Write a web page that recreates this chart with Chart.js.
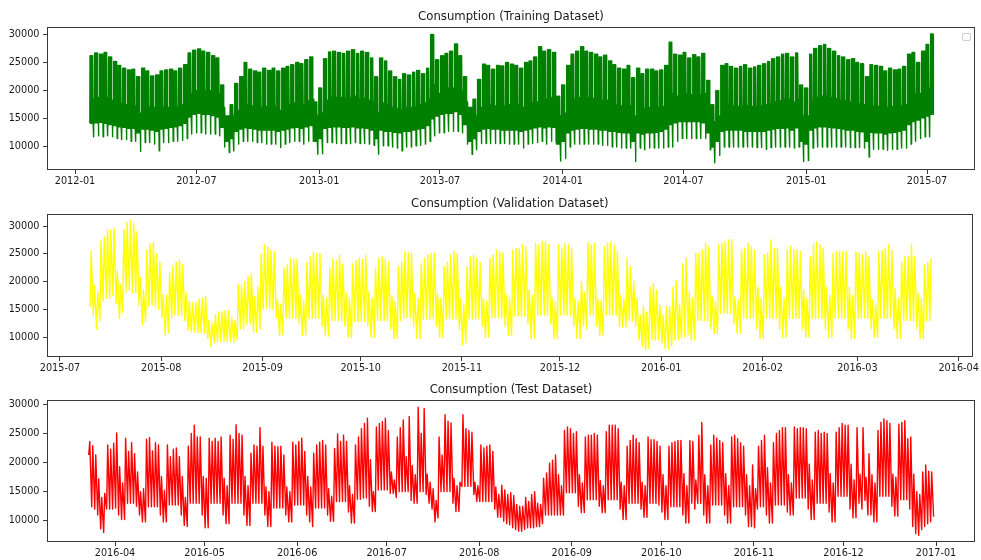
<!DOCTYPE html>
<html><head><meta charset="utf-8">
<script src="https://cdn.jsdelivr.net/npm/chart.js@4.4.1/dist/chart.umd.min.js"></script>
<style>
html,body{margin:0;padding:0;background:#fff;width:981px;height:560px;overflow:hidden}
canvas{position:absolute;left:0}
</style></head><body>
<canvas id="c1" width="981" height="188" style="top:0px"></canvas>
<canvas id="c2" width="981" height="185" style="top:190px"></canvas>
<canvas id="c3" width="981" height="185" style="top:375px"></canvas>
<script>
// ---------------- DATA ----------------
// Training: weekly values (week starting Monday)
const trainStart = '2012-01-23';
const trainLastWeekDays = 5;
const trainWeekdayHigh = [
26200,26700,26500,26800,26000,25200,24500,24000,23700,23800,
22500,24000,23500,22600,22800,23500,23700,23800,23500,24000,
24600,26700,27200,27400,27000,26800,26200,25800,21000,15500,
17500,21300,22500,25000,23800,23500,23300,24000,23600,24000,
23500,24000,24300,24600,25000,24800,25500,26000,18000,20500,
25700,26900,27000,26800,26600,27000,27300,26600,27000,26800,
25800,22500,25800,25300,23500,22500,22000,23000,22800,23300,
23600,23000,24000,30000,25500,26200,26600,27000,28300,26200,
22500,17000,18500,22000,24700,24500,23800,24500,24400,25000,
24700,24500,24000,25000,25300,26000,27800,27000,27300,26800,
19000,21000,24500,26500,27000,27800,27000,26800,26500,26000,
26300,25300,24600,24000,23800,24500,22300,24000,23000,23800,
23800,23500,23700,24500,28600,26500,26300,26800,25800,26400,
26000,26600,21800,17500,20000,24500,24800,24300,24000,24300,
24600,24000,24200,24500,24800,25200,25700,26000,26500,26600,
26000,26700,21000,20500,26500,27500,28000,28200,27500,27000,
26200,26000,25500,25700,25000,24800,22500,24600,24500,24300,
23500,24000,23700,23800,24300,26500,26800,25000,27000,28200,
30100];
const trainWeekdayLow = [
14200,14300,14400,14200,14000,13800,13600,13500,13300,13300,
12500,13200,13200,13000,12800,13200,13300,13500,13600,13800,
14200,15300,15800,16000,15800,15800,15600,15300,13500,11000,
11500,12800,13200,13400,13300,13200,13000,13000,13000,13000,
12800,13000,13200,13400,13500,13300,13600,13800,11000,11500,
13300,13500,13600,13600,13500,13500,13600,13400,13400,13300,
13000,11500,13000,12800,12800,12600,12500,12800,12800,13000,
13200,13300,13800,15000,15500,15800,16000,16000,16300,15800,
14000,11000,11500,12800,13200,13300,13200,13200,13000,13000,
13000,13000,12800,13000,13200,13400,13600,13400,13600,13500,
10500,11000,12500,13000,13200,13300,13300,13200,13200,13000,
13000,12800,12800,12600,12500,12500,11000,12500,12300,12500,
12500,12600,12800,13200,14000,14300,14500,14500,14500,14500,
14500,14300,12500,10000,11000,12800,13000,13000,13000,13000,
12800,12800,12800,12800,12800,13000,13200,13300,13300,13400,
13000,13400,11000,10500,13000,13400,13600,13600,13500,13400,
13300,13200,13000,13000,12800,12700,11000,12600,12500,12500,
12300,12500,12600,12800,13000,14000,14500,14800,15200,15500,
15800];
const trainWeekendHigh = [
18500,18800,18600,18800,18300,18000,17800,17500,17300,17300,
16000,17200,17000,17000,16500,17000,17000,17200,17200,17500,
18000,19500,20000,20300,20000,20000,19800,19500,17000,14000,
15500,16500,17000,17500,17300,17200,17000,17200,17000,17200,
16500,17200,17500,17800,18000,17500,18200,18500,15500,16000,
18300,18800,18800,18800,18600,18800,19000,18500,18600,18300,
18000,16000,17800,17500,17000,16800,16500,17000,17000,17200,
17500,17800,18500,21000,19500,20000,20500,20500,21000,20000,
18000,15000,15500,17000,17500,17500,17300,17500,17300,17500,
17500,17500,17000,17500,17800,18000,18800,18500,18800,18500,
15500,16000,18000,18500,18800,19000,18800,18600,18500,18300,
18300,17800,17500,17300,17200,17300,15500,17200,16800,17000,
17000,17000,17200,17800,19500,19000,19500,19500,19300,19500,
19300,19500,17000,14500,15500,17300,17500,17300,17200,17300,
17300,17200,17200,17300,17500,17700,18000,18200,18500,18500,
18000,18500,15500,15500,18300,18800,19000,19000,18800,18600,
18300,18200,18000,18000,17700,17500,15500,17300,17200,17200,
17000,17200,17200,17300,17500,19000,19500,19500,20000,20500,
21000];
const trainWeekendLow = [
11800,12000,11800,12000,11800,11500,11300,11300,11000,11000,
9200,10800,10800,10500,9300,10800,10800,11000,11000,11200,
11500,12300,12500,12500,12300,12300,12300,12000,10000,9000,
9300,10500,11000,11000,11000,10800,10800,10500,10500,10500,
9900,10500,10800,11000,11000,10500,11000,11000,8700,8800,
10800,10800,10600,10600,10600,10600,10800,10600,10600,10500,
10300,8700,10200,10200,10000,9800,9300,10000,10000,10200,
10300,10500,11000,12000,12500,12500,12800,12800,12800,12500,
10500,8700,9500,10600,10600,10600,10600,10600,10600,10500,
10500,10500,9800,10500,10600,10800,11000,10500,11000,10800,
7500,8000,10000,10500,10500,10500,10500,10500,10500,10300,
10300,10000,10000,9800,9800,9800,7400,9800,9500,9800,
9800,9800,9800,10000,10000,11000,11500,11500,11500,11500,
11500,11500,9500,7200,8500,10000,10000,10000,10000,10000,
10000,10000,9900,9900,9600,9900,10000,10000,10000,10000,
9800,10000,7400,7600,9800,10000,10000,10000,10000,10000,
10000,10000,9900,9900,9900,9800,8200,9600,9600,9600,
9400,9600,9600,9800,9800,10500,11000,11500,11800,11800,
12000];

// Validation: daily high / low, from 2015-07-10 (Fri)
const valStart = '2015-07-10';
const valHigh = [
25500,19300,18200,
27300,28000,29300,29300,29600,21800,19500,
29300,30700,31000,30500,29000,20800,18500,
25700,26800,27000,25000,23500,17700,17500,
21500,22800,23500,23800,23000,18000,16500,
16300,16300,16800,17000,17400,13000,12500,
14000,14500,14600,14800,14800,13500,13000,
19500,19400,20000,20900,21500,17300,19000,
25000,26600,26300,25700,25400,16800,16000,
22400,23000,24200,24000,24000,17500,16500,
23500,24500,25300,25000,25000,17500,17000,
22400,24200,23700,24700,23200,17900,17000,
23200,23800,24200,24000,24700,18200,17000,
22400,24200,24500,24000,23500,17500,16500,
22700,23500,25400,25200,25100,17900,17000,
23200,24200,24800,25100,25100,17800,17000,
22700,23500,24800,25400,25100,17000,16000,
22700,24500,24800,24200,23500,17000,16500,
24200,24800,25700,25400,25100,17500,17000,
25700,26000,26000,26600,26300,18500,17500,
26900,26600,27200,27200,26600,17000,16500,
26600,26000,26900,26600,26000,17000,16500,
20000,18000,27000,26600,26800,17000,16500,
26300,26900,27200,26600,25400,17500,17000,
24200,22700,20000,17000,14000,15500,14500,
19000,19700,18500,15700,14000,15500,15500,
19000,20200,16000,23200,24200,18200,17000,
25100,25100,25700,26900,26300,17300,16500,
26600,26900,27200,27500,27500,17300,16800,
25700,26000,26900,26300,25700,19000,17000,
24800,25100,27500,26000,26000,19000,17000,
25700,26300,25700,25700,25400,18500,17000,
24500,26600,27200,26600,26000,19000,17500,
25100,25400,25400,25400,25400,19000,17500,
25400,25100,24800,25400,24500,16700,16000,
25400,25700,26000,26600,25700,18800,17000,
23500,24500,24500,26600,24500,17900,17000,
23000,23500,24200];
const valLow = [
15500,14000,11500,
13000,16500,17000,17000,17500,16000,13400,
14500,18000,18500,18000,18000,15800,12200,
12800,15500,15800,15500,15000,13500,10400,
10800,13500,14000,14000,14000,13000,11200,
11000,11000,10800,10800,10700,9800,8300,
9000,9200,9200,9300,9300,9200,9100,
9500,11500,11500,12300,12500,11000,10900,
11500,15000,15200,15200,15000,13500,10300,
10500,13400,13400,13400,13400,12500,10300,
10400,13400,13400,13400,13400,12000,10300,
10200,13000,13000,13000,13000,12000,10000,
10000,12800,12800,12800,12800,12000,10000,
10000,13000,13000,13000,13000,11500,9800,
9800,13000,13500,13500,13500,12000,9800,
9800,13300,13300,13300,13300,12000,10000,
10000,13300,13300,13300,13300,11500,8700,
9000,13300,13300,13300,13300,12000,10000,
10000,13500,13500,13500,13500,12000,10300,
10300,13800,13800,13800,13800,12500,9800,
9800,14000,14000,14000,14000,12500,9800,
9800,14000,14000,14000,14000,12000,9800,
9800,12000,11500,14000,14000,12000,10300,
10300,14000,14000,14000,14000,12000,11800,
11800,13000,13000,12000,9500,8300,7700,
8000,9500,9500,9500,9000,8000,7800,
8500,9500,9500,9800,10000,10500,9500,
9500,13000,13000,13000,13000,11500,10700,
10700,14300,14300,14300,14300,12500,10700,
10700,13400,13400,13400,13400,11500,9800,
9800,13400,13400,13400,13400,11500,10000,
10000,13400,13400,13400,13400,11500,10000,
10000,13400,13400,13400,13400,11500,10000,
10000,13400,13400,13400,13400,11500,9800,
9800,13400,13400,13400,13400,11500,10000,
10000,13400,13400,13400,13400,11500,9800,
9800,13000,13000,13000,13000,11500,9800,
9800,13000,13000];

// Test: daily high / low, from 2016-03-23 (Wed)
const testStart = '2016-03-23';
const testHigh = [
23600,22900,21300,17200,14000,
14700,23000,22300,23300,25100,19300,16500,
24200,21900,23400,21500,18400,15000,15500,
24000,24300,22000,23400,23000,17600,15200,
23000,21000,22300,22500,21000,17600,14000,
22800,25000,26400,24400,24400,17600,17300,
24200,23600,24200,23600,24400,17300,16000,
24700,24000,26500,25000,24700,17600,16000,
21600,23000,22800,26000,22800,15800,15000,
23500,22800,22700,22800,21300,15800,15000,
23500,23000,23600,24200,21900,17600,15800,
21600,23000,23500,23800,23000,15500,14200,
22400,24900,23600,24700,23600,16000,14500,
23000,24400,25800,26700,27600,20500,15000,
26100,26700,27000,27600,25500,18400,17000,
24400,26000,27300,21000,27900,19500,17900,
29500,25000,29300,18000,16600,15500,13500,
24400,21300,28200,27100,26800,17300,16000,
16600,28200,25800,25500,25200,16600,16000,
23000,22500,22800,23000,21900,15800,14500,
16100,15300,14500,14800,14300,12800,12500,
12500,14000,13300,14500,15000,13000,12800,
17300,18200,19900,20400,21300,17900,16000,
25500,26100,25800,25000,25300,17900,16500,
24400,24700,24700,25000,24700,16900,16000,
25300,26400,26400,26400,25800,16600,16000,
22800,23800,24700,24100,23400,16600,16000,
24400,23900,23900,23600,22800,17900,16000,
22800,23400,23600,23800,23800,18100,16000,
23800,23600,17000,24700,26900,17900,16000,
23000,24700,24200,23800,23400,18100,16000,
24400,24700,24100,23400,22800,17900,16000,
19600,15500,22800,23800,24700,19100,16500,
23400,25000,25500,26000,26000,17900,16500,
26100,25800,26000,26000,25800,19700,17000,
25200,25500,25000,25200,25000,18100,16500,
25200,26000,26700,26400,26400,19700,17000,
26000,18000,26000,17500,21500,17900,16500,
25500,26900,27500,27200,26700,18000,17500,
26600,26900,27200,24100,24400,18000,15000,
14500,18400,19600,18500,18400,null];
const testLow = [
21300,12400,12000,11000,8600,
8000,12000,12000,12000,12200,11000,10200,
10200,13000,13000,13000,12500,11000,9800,
9800,12400,12400,12400,12400,11000,9800,
9800,12700,12700,12700,12700,11000,9200,
9000,13000,13000,13000,13000,11000,8800,
8800,13000,13000,13000,13000,11000,9500,
9500,13000,13000,13000,13000,11000,9200,
9200,13000,13000,13000,13000,11000,9000,
9000,12200,12200,12200,12200,11000,9800,
9800,12700,12700,12700,12700,11000,9800,
9000,12200,12200,12200,12200,11000,9900,
9900,13300,13300,13300,13300,11500,9600,
9600,13700,13700,13900,13900,12500,11600,
11600,15300,15300,15300,15300,14700,14700,
14000,15000,15000,15000,15000,13500,13000,
13000,15000,15000,14500,13000,12000,9800,
10500,15000,15000,15000,15000,13000,11600,
11600,15900,15900,15900,15900,14500,13300,
13300,13300,13300,13300,13300,12000,10600,
10600,9900,9500,9300,8800,8500,8200,
8200,8500,8800,8800,8800,9000,9000,
9500,11000,11000,11000,11000,11000,11000,
11000,14800,14800,14800,14800,12500,11400,
11400,13600,13600,13600,13600,12500,11400,
11400,13600,13600,13600,13600,12000,10200,
10200,13000,13000,13000,13000,12000,10600,
10600,13000,13000,13000,12700,11500,10200,
10200,12400,12400,12400,12400,11000,9600,
9600,13000,12000,13000,13000,11000,9600,
9600,12700,12700,12700,12700,11000,9600,
9600,12400,12400,12400,12400,11000,9000,
9000,8800,12000,12400,12400,11000,9600,
9600,12700,12700,12700,12700,11500,11000,
11000,13900,13900,13900,13900,12000,10200,
10200,13000,13000,13000,13000,11500,9800,
9800,14200,14200,14200,14200,12000,10500,
10500,13000,12000,13500,11000,11000,9800,
9800,14200,14200,14200,14200,12500,10800,
10800,13600,13600,13600,12000,9000,7800,
7500,8500,9000,9500,9800,10700];

// Tick labels
const trainTicks = ['2012-01','2012-07','2013-01','2013-07','2014-01','2014-07','2015-01','2015-07'];
const valTicks = ['2015-07','2015-08','2015-09','2015-10','2015-11','2015-12','2016-01','2016-02','2016-03','2016-04'];
const testTicks = ['2016-04','2016-05','2016-06','2016-07','2016-08','2016-09','2016-10','2016-11','2016-12','2017-01'];
const yTicks = [10000,15000,20000,25000,30000];

// ---------------- BUILD ----------------
const DAY = 86400000;
function parseDate(s){const p=s.split('-').map(Number);return Date.UTC(p[0],p[1]-1,p[2]||1);}

function buildTrain(){
  const pts=[]; const t0=parseDate(trainStart); const n=trainWeekdayHigh.length;
  for(let w=0;w<n;w++){
    const nd=(w===n-1)?trainLastWeekDays:7;
    for(let d=0;d<nd;d++){
      const day=t0+(7*w+d)*DAY;
      const lo=d<6?trainWeekdayLow[w]:trainWeekendLow[w];
      const hi=d<5?trainWeekdayHigh[w]:trainWeekendHigh[w];
      pts.push({x:day+0.2*DAY,y:lo},{x:day+0.55*DAY,y:hi});
    }
  }
  return pts;
}
function buildDaily(start,lows,highs){
  const pts=[]; const t0=parseDate(start);
  for(let i=0;i<lows.length;i++){
    const day=t0+i*DAY;
    pts.push({x:day+0.2*DAY,y:lows[i]});
    if(highs[i]!=null) pts.push({x:day+0.55*DAY,y:highs[i]});
  }
  return pts;
}

Chart.defaults.font.family = "'DejaVu Sans', sans-serif";
Chart.defaults.font.size = 9.7;
Chart.defaults.color = '#1a1a1a';

const framePlugin = {
  id:'mplFrame',
  afterDraw(chart){
    const o=chart.options.plugins.mplFrame; const a=chart.chartArea; const ctx=chart.ctx;
    ctx.save();
    ctx.strokeStyle='#3a3a3a'; ctx.lineWidth=1;
    ctx.strokeRect(Math.round(a.left)+0.5, Math.round(a.top)+0.5, Math.round(a.right-a.left)-1, Math.round(a.bottom-a.top)-1);
    ctx.fillStyle='#1a1a1a';
    ctx.font="11.7px 'DejaVu Sans', sans-serif";
    ctx.textAlign='center'; ctx.textBaseline='alphabetic';
    ctx.fillText(o.title,(a.left+a.right)/2,a.top-7);
    if(o.legend){
      ctx.strokeStyle='#cccccc'; ctx.fillStyle='#ffffff';
      ctx.beginPath();
      if(ctx.roundRect) ctx.roundRect(962.5,33.5,8,7,1.5); else ctx.rect(962.5,33.5,8,7);
      ctx.fill(); ctx.stroke();
    }
    ctx.restore();
  }
};

function makeChart(id,data,color,xMinDays,xMaxDays,xRef,ticks,yMin,yMax,padTop,title,legend){
  const ref=parseDate(xRef);
  return new Chart(document.getElementById(id),{
    type:'line',
    data:{datasets:[{data:data,borderColor:color,backgroundColor:color,borderWidth:1.4,pointRadius:0,
      tension:0,borderJoinStyle:'round',fill:false}]},
    options:{
      responsive:false,animation:false,parsing:false,normalized:true,
      events:[],
      layout:{padding:{left:0,right:6,top:padTop,bottom:0}},
      plugins:{legend:{display:false},tooltip:{enabled:false},title:{display:false},
        mplFrame:{title:title,legend:legend}},
      scales:{
        x:{type:'linear',min:ref+xMinDays*DAY,max:ref+xMaxDays*DAY,
          afterBuildTicks(s){s.ticks=ticks.map(t=>({value:parseDate(t)}));},
          afterFit(s){s.height=18;},
          border:{display:false},
          grid:{drawOnChartArea:false,drawTicks:true,tickLength:4,color:'#3a3a3a',lineWidth:1},
          ticks:{autoSkip:false,maxRotation:0,minRotation:0,padding:2,color:'#1a1a1a',
            callback:(v,i)=>ticks[i]}},
        y:{type:'linear',min:yMin,max:yMax,
          afterBuildTicks(s){s.ticks=yTicks.map(v=>({value:v}));},
          afterFit(s){s.width=47;},
          border:{display:false},
          grid:{drawOnChartArea:false,drawTicks:true,tickLength:4,color:'#3a3a3a',lineWidth:1},
          ticks:{padding:3.5,color:'#1a1a1a',callback:v=>String(v)}}
      }
    },
    plugins:[framePlugin]
  });
}

makeChart('c1',buildTrain(),'#008000',-41.97,1348.9,'2012-01-01',trainTicks,5900,31320,27,'Consumption (Training Dataset)',true);
makeChart('c2',buildDaily(valStart,valLow,valHigh),'#ffff00',-3.97,279.27,'2015-07-01',valTicks,6450,32160,24,'Consumption (Validation Dataset)',false);
makeChart('c3',buildDaily(testStart,testLow,testHigh),'#ff0000',-22.78,288.06,'2016-04-01',testTicks,6350,30740,25,'Consumption (Test Dataset)',false);
</script>
</body></html>
